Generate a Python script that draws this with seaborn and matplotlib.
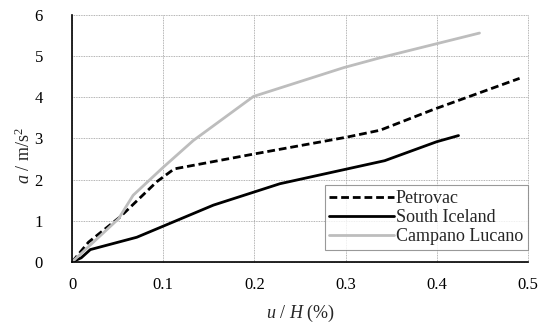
import matplotlib
matplotlib.use("Agg")
import matplotlib.pyplot as plt
import seaborn as sns
import pandas as pd

petrovac_x = [0.0, 0.018, 0.053, 0.093, 0.112, 0.199, 0.301, 0.338, 0.396, 0.491]
petrovac_y = [0.0, 0.48, 1.10, 1.95, 2.26, 2.62, 3.03, 3.20, 3.70, 4.46]
iceland_x = [0.0, 0.010, 0.020, 0.071, 0.155, 0.228, 0.343, 0.400, 0.424]
iceland_y = [0.0, 0.10, 0.30, 0.60, 1.38, 1.90, 2.46, 2.92, 3.07]
campano_x = [0.0, 0.051, 0.067, 0.100, 0.133, 0.199, 0.298, 0.338, 0.447]
campano_y = [0.0, 1.05, 1.62, 2.30, 2.95, 4.02, 4.72, 4.96, 5.56]
series_names = ["Petrovac", "South Iceland", "Campano Lucano"]
x_ticks = [0, 0.1, 0.2, 0.3, 0.4, 0.5]
x_tick_labels = ["0", "0.1", "0.2", "0.3", "0.4", "0.5"]
y_ticks = [0, 1, 2, 3, 4, 5, 6]

sns.set_style("white")
plt.rcParams['font.family'] = ['Liberation Serif', 'DejaVu Serif']
plt.rcParams['mathtext.fontset'] = 'custom'
plt.rcParams['mathtext.rm'] = 'Liberation Serif'
plt.rcParams['mathtext.it'] = 'Liberation Serif:italic'

frames = []
for name, xs, ys in zip(series_names, [petrovac_x, iceland_x, campano_x],
                        [petrovac_y, iceland_y, campano_y]):
    frames.append(pd.DataFrame({"x": xs, "y": ys, "series": name}))
df = pd.concat(frames, ignore_index=True)

fig = plt.figure(figsize=(5.38, 3.25), dpi=100)
ax = fig.add_axes([0.134, 0.194, 0.847, 0.760])

palette = {"Petrovac": "black", "South Iceland": "black", "Campano Lucano": "#bdbdbd"}
dashes = {"Petrovac": (2.8, 1.4), "South Iceland": "", "Campano Lucano": ""}
sns.lineplot(data=df, x="x", y="y", hue="series", style="series",
             palette=palette, dashes=dashes, sort=False, estimator=None,
             linewidth=2.0, ax=ax, hue_order=series_names, style_order=series_names)

ax.set_xlim(0, 0.5)
ax.set_ylim(0, 6)
ax.set_xticks(x_ticks)
ax.set_xticklabels(x_tick_labels)
ax.set_yticks(y_ticks)
ax.grid(True, color="#9a9a9a", linestyle=(0, (1, 1)), linewidth=0.6)
for gl in ax.get_xgridlines() + ax.get_ygridlines():
    gl.set_clip_on(False)
ax.set_axisbelow(True)
for s in ["top", "right"]:
    ax.spines[s].set_visible(False)
for s in ["left", "bottom"]:
    ax.spines[s].set_color("black")
    ax.spines[s].set_linewidth(1.2)
ax.tick_params(axis="both", labelsize=12, labelcolor="black", color="#9a9a9a",
               length=5, width=0.6, direction="out")
ax.tick_params(axis="x", pad=6)
ax.tick_params(axis="y", pad=16)

ax.set_xlabel(r"$u$ / $H$ (%)", fontsize=13)
ax.set_ylabel(r"$a$ / m/s$^2$", fontsize=13)
ax.xaxis.set_label_coords(0.5, -0.165)
ax.yaxis.set_label_coords(-0.083, 0.43)

leg = ax.legend(loc="lower right", bbox_to_anchor=(1.0, 0.049), fontsize=13,
                frameon=True, fancybox=False, edgecolor="#808080", borderaxespad=0,
                handlelength=3.6, handletextpad=0.1, borderpad=0.25,
                labelspacing=0.12)
leg.get_frame().set_linewidth(0.8)

fig.savefig("out.png", dpi=100)
